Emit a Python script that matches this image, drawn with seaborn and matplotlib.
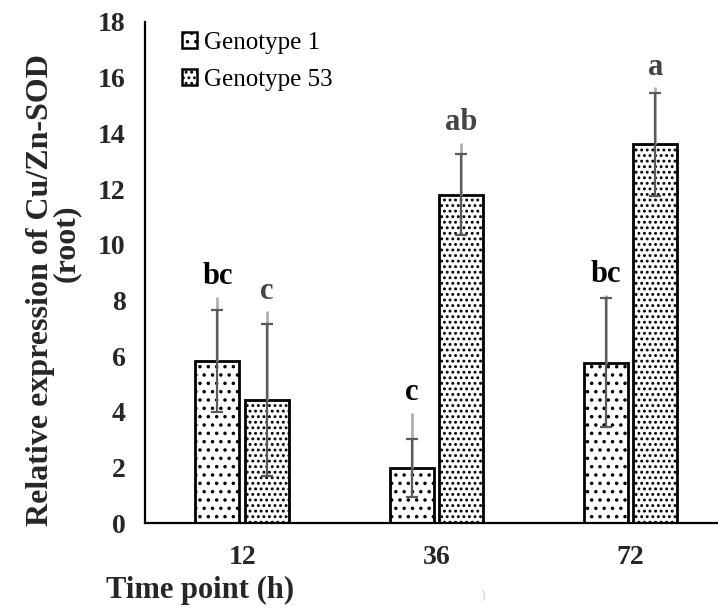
import pandas as pd
import matplotlib
matplotlib.use("Agg")
import matplotlib.pyplot as plt
import seaborn as sns
from matplotlib.patches import Patch

# values
time_points = ["12", "36", "72"]
genotypes = ["Genotype 1", "Genotype 53"]
g1_mean = [5.83, 1.97, 5.76]
g53_mean = [4.42, 11.8, 13.6]
g1_sd = [1.84, 1.05, 2.32]
g53_sd = [2.72, 1.47, 1.85]
# the faint grey lines above each bar (Excel artefact) end here
g1_faint_top = [8.13, 3.96, 8.2]
g53_faint_top = [7.6, 13.67, 15.65]
g1_letters = ["bc", "c", "bc"]
g53_letters = ["c", "ab", "a"]

df = pd.DataFrame({
    "time": time_points * 2,
    "genotype": [genotypes[0]] * 3 + [genotypes[1]] * 3,
    "value": g1_mean + g53_mean,
})

sns.set_style("white")
plt.rcParams["font.family"] = ["Liberation Serif", "DejaVu Serif"]
plt.rcParams["hatch.linewidth"] = 1.3
plt.rcParams["hatch.color"] = "black"

fig = plt.figure(figsize=(7.18, 6.11), dpi=100)
ax = fig.add_axes([0.202, 0.144, 0.798, 0.82])

sns.barplot(data=df, x="time", y="value", hue="genotype", order=time_points,
            hue_order=genotypes, palette=["white", "white"], edgecolor="black",
            linewidth=2, width=0.51, gap=0.11, errorbar=None, legend=False, ax=ax)

hatches = ["..", "..."]
means = [g1_mean, g53_mean]
sds = [g1_sd, g53_sd]
faint = [g1_faint_top, g53_faint_top]
letters = [g1_letters, g53_letters]
letter_colors = ["black", "#444444"]

bar_groups = list(ax.containers)
for k, cont in enumerate(bar_groups):
    for i, bar in enumerate(cont):
        bar.set_hatch(hatches[k])
        xc = bar.get_x() + bar.get_width() / 2
        ax.vlines(xc, means[k][i], faint[k][i], color="#b0b0b0", lw=2, zorder=3)
        ax.errorbar(xc, means[k][i], yerr=sds[k][i], color="#5a5a5a", lw=1.6,
                    capsize=4.5, capthick=1.6, zorder=4)
        ax.text(xc, faint[k][i] + 0.72, letters[k][i], ha="center", va="center",
                fontsize=22, fontweight="bold", color=letter_colors[k])

ax.set_ylim(0, 18)
ax.set_xlim(-0.5, 2.45)
ax.set_yticks(range(0, 19, 2))
sns.despine(ax=ax)
for s in ["left", "bottom"]:
    ax.spines[s].set_linewidth(1.6)
    ax.spines[s].set_color("black")
ax.tick_params(axis="y", length=0, labelsize=20, pad=14)
ax.tick_params(axis="x", length=0, labelsize=20, pad=16)
for lab in ax.get_xticklabels() + ax.get_yticklabels():
    lab.set_fontweight("bold")
ax.set_xlabel("")
ax.set_ylabel("")

handles = [Patch(facecolor="white", edgecolor="black", hatch=h, linewidth=1.8)
           for h in hatches]
leg = ax.legend(handles, genotypes, loc="upper left", bbox_to_anchor=(0.025, 1.025),
                frameon=False, fontsize=18, handlelength=0.6, handleheight=0.6,
                handletextpad=0.3, labelspacing=0.6)
for t in leg.get_texts():
    t.set_color("black")

fig.text(0.056, 0.525, "Relative expression of Cu/Zn-SOD", rotation=90,
         ha="center", va="center", fontsize=23, fontweight="bold")
fig.text(0.093, 0.602, "(root)", rotation=90, ha="center", va="center",
         fontsize=23, fontweight="bold")
fig.text(0.279, 0.034, "Time point (h)", ha="center", va="center",
         fontsize=22, fontweight="bold")
# faint stray mark in the original figure
fig.text(0.673, 0.025, ")", ha="center", va="center", fontsize=10, color="#cfcfcf")

fig.savefig("out.png", dpi=100)
